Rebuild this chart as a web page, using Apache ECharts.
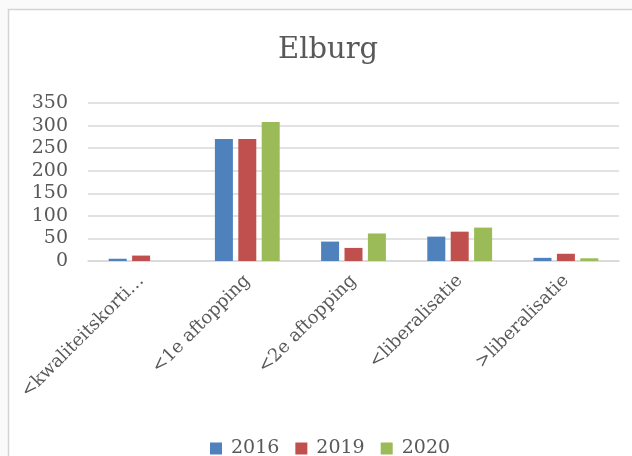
<!DOCTYPE html>
<html>
<head>
<meta charset="utf-8">
<script src="https://cdn.jsdelivr.net/npm/echarts@6/dist/echarts.min.js"></script>
<style>
  html, body { margin: 0; padding: 0; background: #fafafa; }
  #chart { width: 632px; height: 456px; }
</style>
</head>
<body>
<div id="chart"></div>
<script>
// categories and values
const categories = ['<kwaliteitskorti…', '<1e aftopping', '<2e aftopping', '<liberalisatie', '>liberalisatie']
const years = ['2016', '2019', '2020']
const values2016 = [5, 270, 43, 54, 7]
const values2019 = [12, 270, 29, 65, 16]
const values2020 = [0, 308, 61, 74, 6]
const yTicks = { min: 0, max: 350, interval: 50 }

const colors = ['#4f81bd', '#c0504d', '#9bbb59']
const font = 'DejaVu Serif'
const textColor = '#595959'

const chart = echarts.init(document.getElementById('chart'))

const makeSeries = (name, data, i) => ({
  name,
  type: 'bar',
  data,
  barWidth: 18,
  barGap: '30%',
  itemStyle: { color: colors[i] }
})

chart.setOption({
  backgroundColor: '#fafafa',
  animation: false,
  graphic: [
    {
      type: 'rect',
      z: -10,
      shape: { x: 8.5, y: 9.5, width: 640, height: 460 },
      style: { fill: '#ffffff', stroke: '#d4d4d4', lineWidth: 1.5 }
    }
  ],
  title: {
    text: 'Elburg',
    left: 273,
    top: 31,
    textStyle: { fontFamily: font, fontSize: 29, fontWeight: 'normal', color: textColor }
  },
  legend: {
    data: years,
    left: 205,
    top: 434,
    icon: 'rect',
    itemWidth: 12,
    itemHeight: 12,
    itemGap: 16,
    textStyle: { fontFamily: font, fontSize: 19, color: textColor, padding: [0, 0, 0, 4] }
  },
  grid: { left: 88, right: 13, top: 103, bottom: 195 },
  xAxis: {
    type: 'category',
    data: categories,
    axisTick: { show: false },
    axisLine: { lineStyle: { color: '#d9d9d9', width: 1.5 } },
    axisLabel: {
      interval: 0,
      rotate: 45,
      margin: 17,
      fontFamily: font,
      fontSize: 18,
      color: textColor
    }
  },
  yAxis: {
    type: 'value',
    min: yTicks.min,
    max: yTicks.max,
    interval: yTicks.interval,
    axisLine: { show: false },
    axisTick: { show: false },
    splitLine: { lineStyle: { color: '#d9d9d9', width: 1.5 } },
    axisLabel: { fontFamily: font, fontSize: 19, color: textColor, margin: 20 }
  },
  series: [
    makeSeries(years[0], values2016, 0),
    makeSeries(years[1], values2019, 1),
    makeSeries(years[2], values2020, 2)
  ]
})
</script>
</body>
</html>
